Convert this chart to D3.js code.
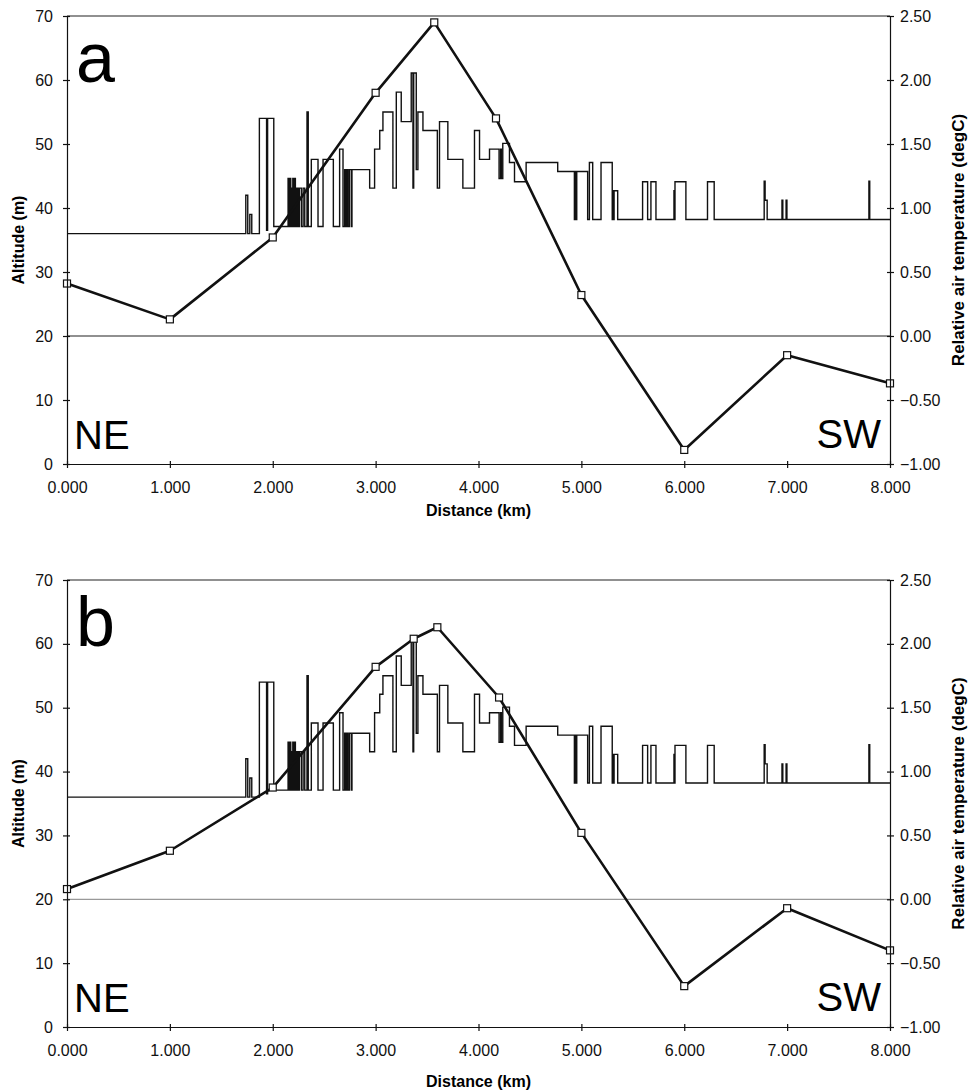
<!DOCTYPE html>
<html>
<head>
<meta charset="utf-8">
<script src="https://cdn.jsdelivr.net/npm/d3@7"></script>
<style>
  body { margin: 0; background: #fff; }
  svg { display: block; font-family: "Liberation Sans", Arial, sans-serif; }
</style>
</head>
<body>
<svg id="chart" width="968" height="1091"></svg>
<script>
// altitude profile along the transect (step line), km / m
const profileDist = [
  0, 1.738, 1.757, 1.777, 1.796, 1.870, 1.940, 1.950, 2.010,
  2.149, 2.160, 2.165, 2.175, 2.181, 2.190, 2.195, 2.205, 2.210, 2.220,
  2.225, 2.235, 2.240, 2.250, 2.258, 2.278, 2.295, 2.311, 2.333, 2.345,
  2.375, 2.440, 2.489, 2.589, 2.650, 2.683, 2.699, 2.712, 2.720, 2.731,
  2.745, 2.764, 2.770, 2.942, 2.990, 3.040, 3.071, 3.168, 3.201, 3.249,
  3.346, 3.363, 3.370, 3.395, 3.411, 3.460, 3.600, 3.621, 3.702, 3.848,
  3.961, 4.010, 4.107, 4.200, 4.215, 4.222, 4.236, 4.301, 4.350, 4.463,
  4.770, 4.932, 4.940, 4.945, 4.955, 5.061, 5.078, 5.110, 5.191, 5.300,
  5.308, 5.312, 5.318, 5.353, 5.595, 5.644, 5.676, 5.725, 5.900, 5.905,
  5.910, 6.016, 6.226, 6.291, 6.777, 6.786, 6.806, 6.950, 6.958, 6.990,
  6.998, 7.795, 7.803, 8.000
];
const profileAlt = [
  36.0, 42.0, 36.0, 39.0, 36.0, 54.0, 36.5, 54.0, 37.1,
  44.6, 37.1, 44.6, 37.1, 43.1, 37.1, 44.6, 37.1, 44.6, 37.1,
  43.1, 37.1, 43.1, 37.1, 43.1, 37.1, 43.1, 37.1, 55.0, 37.1,
  47.6, 37.1, 47.6, 37.1, 49.2, 37.1, 46.0, 37.1, 46.0, 37.1,
  46.0, 37.1, 46.0, 43.1, 49.2, 52.1, 55.0, 43.1, 58.1, 53.5,
  61.1, 43.1, 61.1, 46.0, 55.0, 52.1, 43.1, 53.5, 47.6, 43.1,
  52.1, 47.6, 49.2, 44.6, 49.2, 44.6, 50.1, 47.1, 44.1, 47.1,
  45.7, 38.2, 45.7, 38.2, 45.7, 38.2, 47.1, 38.2, 47.1, 38.2,
  42.7, 38.2, 42.7, 38.2, 44.1, 38.2, 44.1, 38.2, 42.7, 38.2,
  44.1, 38.2, 44.1, 38.2, 44.2, 41.2, 38.2, 41.2, 38.2, 41.2,
  38.2, 44.2, 38.2, 38.2
];

// relative air temperature, panel a
const tempDistA = [0, 1, 2, 3, 3.57, 4.17, 5, 6, 7, 8];
const tempA = [0.41, 0.13, 0.77, 1.90, 2.45, 1.70, 0.32, -0.89, -0.15, -0.37];

// relative air temperature, panel b
const tempDistB = [0, 1, 2, 3, 3.37, 3.60, 4.20, 5, 6, 7, 8];
const tempB = [0.08, 0.38, 0.875, 1.82, 2.04, 2.13, 1.58, 0.52, -0.68, -0.07, -0.40];

const altTicks = [0, 10, 20, 30, 40, 50, 60, 70];
const tempTicks = [-1, -0.5, 0, 0.5, 1, 1.5, 2, 2.5];
const distTicks = [0, 1, 2, 3, 4, 5, 6, 7, 8];

const svg = d3.select("#chart");
const left = 67, right = 890;

const profile = profileDist.map((d, i) => ({ x: d, y: profileAlt[i] }));

function drawPanel(top, bottom, letter, tDist, tVals, zeroColor, titleOffset) {
  const g = svg.append("g");
  const x = d3.scaleLinear().domain([0, 8]).range([left, right]);
  const y = d3.scaleLinear().domain([0, 70]).range([bottom, top]);
  const yT = d3.scaleLinear().domain([-1, 2.5]).range([bottom, top]);

  // top frame line
  g.append("line")
    .attr("x1", left).attr("x2", right)
    .attr("y1", y(70)).attr("y2", y(70))
    .attr("stroke", "#222").attr("stroke-width", 1.2);

  // zero temperature line
  g.append("line")
    .attr("x1", left).attr("x2", right)
    .attr("y1", yT(0)).attr("y2", yT(0))
    .attr("stroke", zeroColor).attr("stroke-width", 1.2);

  // altitude profile
  g.append("path")
    .datum(profile)
    .attr("fill", "none")
    .attr("stroke", "#111")
    .attr("stroke-width", 1.4)
    .attr("d", d3.line().curve(d3.curveStepAfter).x(d => x(d.x)).y(d => y(d.y)));

  // temperature line
  const tData = tDist.map((d, i) => ({ x: d, t: tVals[i] }));
  g.append("path")
    .datum(tData)
    .attr("fill", "none")
    .attr("stroke", "#111")
    .attr("stroke-width", 2.6)
    .attr("stroke-linejoin", "round")
    .attr("d", d3.line().x(d => x(d.x)).y(d => yT(d.t)));

  g.selectAll("rect.mk")
    .data(tData)
    .join("rect")
    .attr("class", "mk")
    .attr("x", d => x(d.x) - 3.5)
    .attr("y", d => yT(d.t) - 3.5)
    .attr("width", 7).attr("height", 7)
    .attr("fill", "#fff")
    .attr("stroke", "#111")
    .attr("stroke-width", 1.2);

  // axes
  const style = a => {
    a.selectAll("text").attr("font-size", "16px").attr("fill", "#111")
      .attr("font-family", "'Liberation Sans', Arial, sans-serif");
    a.selectAll("line, path").attr("stroke", "#111").attr("stroke-width", 1.2);
  };

  g.append("g")
    .attr("transform", `translate(${left},0)`)
    .call(d3.axisLeft(y).tickValues(altTicks).tickSize(4).tickSizeOuter(0).tickPadding(10))
    .call(a => a.selectAll(".tick line").attr("x1", 3))
    .call(style);

  g.append("g")
    .attr("transform", `translate(${right},0)`)
    .call(d3.axisRight(yT).tickValues(tempTicks).tickSize(4).tickSizeOuter(0).tickPadding(6)
      .tickFormat(d3.format(".2f")))
    .call(a => a.selectAll(".tick line").attr("x1", -3))
    .call(style);

  g.append("g")
    .attr("transform", `translate(0,${bottom})`)
    .call(d3.axisBottom(x).tickValues(distTicks).tickSize(4).tickSizeOuter(0).tickPadding(14)
      .tickFormat(d3.format(".3f")))
    .call(a => a.selectAll(".tick line").attr("y1", -3))
    .call(style);

  // axis titles
  g.append("text")
    .attr("transform", `translate(24,${(top + bottom) / 2}) rotate(-90)`)
    .attr("text-anchor", "middle")
    .attr("font-size", "16px").attr("font-weight", "bold")
    .text("Altitude (m)");

  g.append("text")
    .attr("transform", `translate(964,${(top + bottom) / 2}) rotate(-90)`)
    .attr("text-anchor", "middle")
    .attr("font-size", "17px").attr("font-weight", "bold")
    .text("Relative air temperature (degC)");

  g.append("text")
    .attr("x", (left + right) / 2)
    .attr("y", bottom + titleOffset)
    .attr("text-anchor", "middle")
    .attr("font-size", "16px").attr("font-weight", "bold")
    .text("Distance (km)");

  // panel letter and direction labels
  g.append("text")
    .attr("x", 76).attr("y", top + 66)
    .attr("font-size", "70px")
    .text(letter);

  g.append("text")
    .attr("x", 74).attr("y", bottom - 15)
    .attr("font-size", "40px")
    .text("NE");

  g.append("text")
    .attr("x", 881).attr("y", bottom - 16)
    .attr("text-anchor", "end")
    .attr("font-size", "40px")
    .text("SW");
}

drawPanel(16, 464, "a", tempDistA, tempA, "#222", 52);
drawPanel(580, 1027, "b", tempDistB, tempB, "#999", 60);
</script>
</body>
</html>
